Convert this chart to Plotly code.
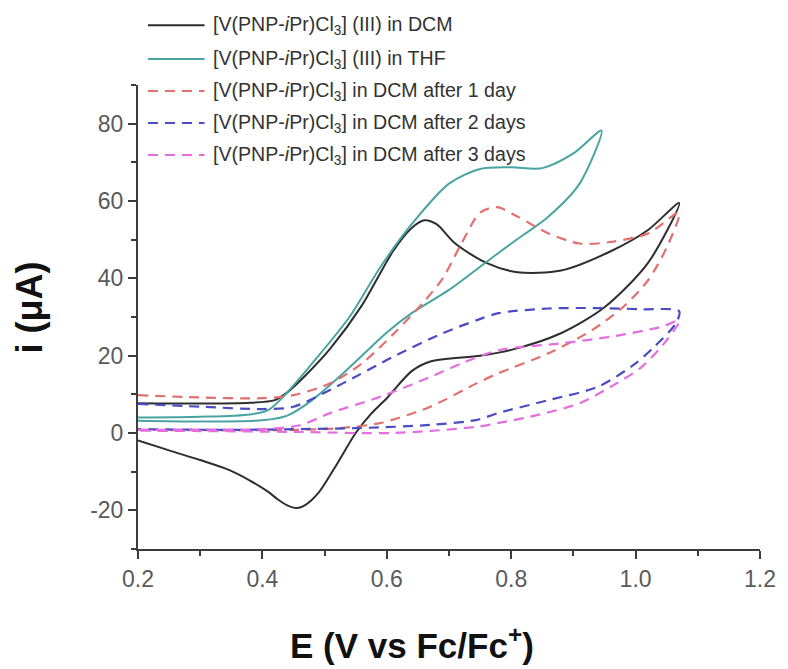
import plotly.graph_objects as go

# ---- Cyclic voltammograms: forward sweep followed by reverse sweep ----
# Potential E (V vs Fc/Fc+) and current i (uA)

dcm_E = [0.20, 0.30, 0.38, 0.42, 0.44, 0.47, 0.51, 0.56, 0.61, 0.64, 0.66, 0.68, 0.71, 0.76, 0.81, 0.88, 0.96, 1.02, 1.07,
         1.02, 0.95, 0.88, 0.80, 0.75, 0.67, 0.64, 0.60, 0.575, 0.55, 0.52, 0.49, 0.47, 0.455, 0.44, 0.425, 0.41, 0.38, 0.347,
         0.30, 0.25, 0.20]
dcm_i = [7.7, 7.6, 7.8, 8.5, 10.5, 15, 22, 33, 47, 53, 55, 54, 49, 44, 41.6, 42, 47, 52.5, 59.5,
         44, 32.5, 25.8, 21.5, 20, 18.5, 16, 9, 5, 0, -8, -15.5, -18.5, -19.4, -18.7, -17.2, -15.3, -12.3, -9.6,
         -7.0, -4.5, -1.9]

thf_E = [0.20, 0.30, 0.38, 0.41, 0.44, 0.48, 0.54, 0.59, 0.64, 0.70, 0.75, 0.80, 0.85, 0.90, 0.945,
         0.91, 0.86, 0.80, 0.75, 0.70, 0.64, 0.60, 0.56, 0.52, 0.48, 0.44, 0.40, 0.30, 0.20]
thf_i = [4.0, 4.2, 4.8, 6.0, 10.5, 18, 30, 43, 54, 64.5, 68.3, 68.7, 68.5, 72.3, 78.2,
         64.5, 56, 49, 43, 37, 31, 26, 20, 14, 8.5, 4.5, 3.3, 3.0, 3.2]

day1_E = [0.20, 0.30, 0.40, 0.45, 0.51, 0.56, 0.61, 0.66, 0.69, 0.72, 0.75, 0.777, 0.81, 0.86, 0.91, 0.96, 1.02, 1.07,
          1.05, 1.02, 0.98, 0.93, 0.86, 0.78, 0.745, 0.67, 0.59, 0.52, 0.45, 0.35, 0.20]
day1_i = [9.8, 9.2, 9.0, 9.8, 12.9, 18, 25.5, 34, 40, 49, 57, 58.4, 56, 51.6, 49, 49.4, 51.6, 57,
          48, 39.5, 32.6, 26.6, 20.6, 15.5, 12.9, 6.8, 2.6, 1.2, 0.8, 0.7, 0.8]

day2_E = [0.20, 0.30, 0.40, 0.45, 0.53, 0.61, 0.69, 0.745, 0.78, 0.86, 0.94, 1.01, 1.07,
          1.065, 1.03, 1.00, 0.94, 0.86, 0.78, 0.745, 0.67, 0.56, 0.45, 0.35, 0.20]
day2_i = [7.5, 6.8, 6.2, 6.8, 12.9, 19.7, 25.8, 29.2, 31, 32.2, 32.3, 32, 31.5,
          28.4, 22.3, 18, 12, 8.5, 5.2, 3.4, 2.1, 1.3, 1.0, 0.8, 1.0]

day3_E = [0.20, 0.30, 0.40, 0.46, 0.51, 0.59, 0.67, 0.72, 0.78, 0.88, 0.96, 1.04, 1.07,
          1.05, 1.01, 0.97, 0.91, 0.83, 0.78, 0.745, 0.61, 0.45, 0.30, 0.20]
day3_i = [0.8, 0.9, 1.0, 2.0, 5.2, 9.4, 14.5, 18, 21.4, 23.2, 24.9, 27.4, 29,
          24, 17.1, 12.9, 7.7, 4.2, 2.6, 1.6, 0.0, 0.3, 0.5, 0.6]

names = [
    "[V(PNP-<i>i</i>Pr)Cl<sub>3</sub>] (III) in DCM",
    "[V(PNP-<i>i</i>Pr)Cl<sub>3</sub>] (III) in THF",
    "[V(PNP-<i>i</i>Pr)Cl<sub>3</sub>] in DCM after 1 day",
    "[V(PNP-<i>i</i>Pr)Cl<sub>3</sub>] in DCM after 2 days",
    "[V(PNP-<i>i</i>Pr)Cl<sub>3</sub>] in DCM after 3 days",
]

x_ticks = [0.2, 0.4, 0.6, 0.8, 1.0, 1.2]
y_ticks = [-20, 0, 20, 40, 60, 80]

FONT = "Liberation Sans, Arial, sans-serif"
AXIS_COLOR = "#3c3c3c"
DASH = "10px,7px"

styles = [
    dict(color="#2e2e2e", width=2, dash="solid"),
    dict(color="#4aa3a3", width=2, dash="solid"),
    dict(color="#e2706e", width=2.2, dash=DASH),
    dict(color="#4b4bc4", width=2.2, dash=DASH),
    dict(color="#e46ee0", width=2.2, dash=DASH),
]

series = [(dcm_E, dcm_i), (thf_E, thf_i), (day1_E, day1_i), (day2_E, day2_i), (day3_E, day3_i)]

fig = go.Figure()
for (E, i), name, st in zip(series, names, styles):
    fig.add_trace(go.Scatter(
        x=E, y=i, mode="lines", name=name,
        line=dict(color=st["color"], width=st["width"], dash=st["dash"],
                  shape="spline", smoothing=0.8),
        showlegend=False,
    ))

# Legend drawn as line samples + labels above the plot area
legend_rows_y = [1.129, 1.056, 0.987, 0.918, 0.849]
for name, st, ly in zip(names, styles, legend_rows_y):
    fig.add_shape(type="line", xref="paper", yref="paper",
                  x0=0.016, x1=0.107, y0=ly, y1=ly,
                  line=dict(color=st["color"], width=2, dash=st["dash"]))
    fig.add_annotation(xref="paper", yref="paper", x=0.118, y=ly,
                       xanchor="left", yanchor="middle", showarrow=False,
                       text=name, font=dict(family=FONT, size=19.6, color="#333333"))

# Axis titles
fig.add_annotation(xref="paper", yref="paper", x=0.44, y=-0.202,
                   xanchor="center", yanchor="middle", showarrow=False,
                   text="<b>E (V vs Fc/Fc<sup>+</sup>)</b>",
                   font=dict(family=FONT, size=35, color="#111111"))
fig.add_annotation(xref="paper", yref="paper", x=-0.175, y=0.521,
                   xanchor="center", yanchor="middle", showarrow=False,
                   textangle=-90, text="<b>i (μA)</b>",
                   font=dict(family=FONT, size=36, color="#111111"))

axis_common = dict(
    showline=True, linecolor=AXIS_COLOR, linewidth=2,
    showgrid=False, zeroline=False,
    ticks="outside", ticklen=8, tickwidth=2, tickcolor=AXIS_COLOR,
    tickfont=dict(family=FONT, size=23, color="#5a5a5a"),
    mirror=False,
)

fig.update_xaxes(
    range=[0.2, 1.2], tickvals=x_ticks,
    ticktext=[f"{v:.1f}" for v in x_ticks],
    minor=dict(dtick=0.1, tick0=0.2, ticks="outside", ticklen=5, tickwidth=2, tickcolor=AXIS_COLOR),
    **axis_common,
)
fig.update_yaxes(
    range=[-30, 90], tickvals=y_ticks,
    ticktext=[str(v) for v in y_ticks],
    minor=dict(dtick=10, tick0=-30, ticks="outside", ticklen=5, tickwidth=2, tickcolor=AXIS_COLOR),
    **axis_common,
)

fig.update_layout(
    width=788, height=669,
    margin=dict(l=138, r=23, t=85, b=120),
    paper_bgcolor="white", plot_bgcolor="white",
    font=dict(family=FONT),
)

fig.write_html("out.html")
